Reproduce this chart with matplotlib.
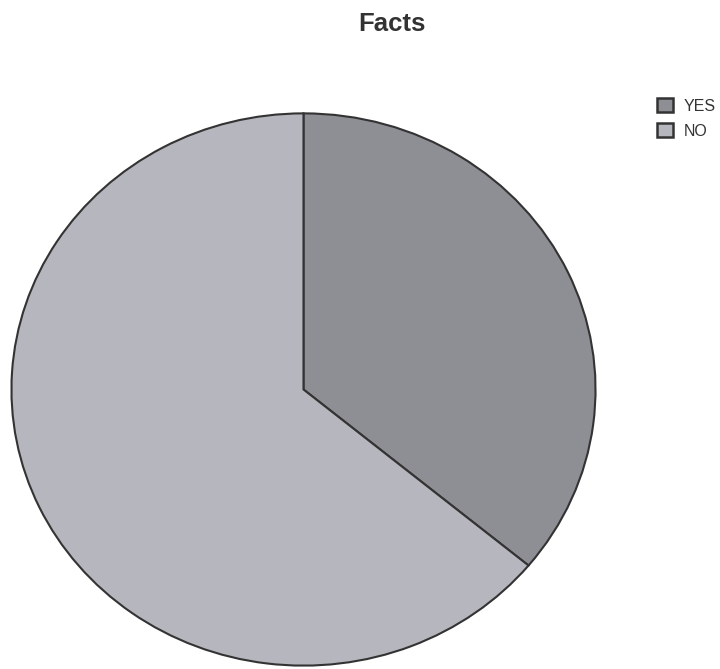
import matplotlib.pyplot as plt
from matplotlib.patches import Patch

# Pie data
labels = ["YES", "NO"]
shares = [36, 64]
colors = ["#8e8e95", "#b6b6be"]

W, H = 720, 669
fig = plt.figure(figsize=(W / 100, H / 100), dpi=100)

# pie box in pixels (the original is slightly squashed vertically)
left, right, top, bottom = 10, 597, 112, 667
ax = fig.add_axes([left / W, 1 - bottom / H, (right - left) / W, (bottom - top) / H])
ax.pie(shares, colors=colors, startangle=90, counterclock=False,
       wedgeprops=dict(edgecolor="#333333", linewidth=1.5))
ax.set_aspect("auto")
ax.set_xlim(-1.005, 1.005)
ax.set_ylim(-1.005, 1.005)
ax.axis("off")

fig.text(392 / W, 1 - 24 / H, "Facts", ha="center", va="center",
         fontsize=18.5, fontweight="bold", family="Liberation Sans", color="#333333")

handles = [Patch(facecolor=c, edgecolor="#333333", linewidth=1.8) for c in colors]
fig.legend(handles, labels, loc="upper left", bbox_to_anchor=(657 / W, 1 - 98 / H),
           frameon=False, prop={"family": "Liberation Sans", "size": 11.5},
           handlelength=1.0, handleheight=1.0, handletextpad=0.65, labelspacing=0.6,
           borderaxespad=0, borderpad=0, labelcolor="#333333")

fig.savefig("out.png", dpi=100)
